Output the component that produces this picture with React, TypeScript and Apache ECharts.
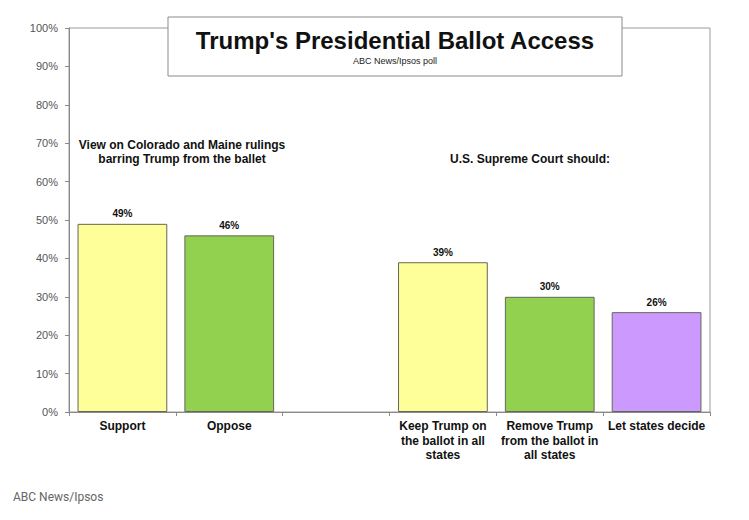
import React, { useEffect, useRef } from "react";
import * as echarts from "echarts";

const categories = [
  "Support",
  "Oppose",
  "",
  "Keep Trump on\nthe ballot in all\nstates",
  "Remove Trump\nfrom the ballot in\nall states",
  "Let states decide",
];
const values: (number | null)[] = [49, 46, null, 39, 30, 26];
const barColors = ["#FFFF99", "#92D050", "#FFFFFF", "#FFFF99", "#92D050", "#CC99FF"];
const yTicks = [0, 10, 20, 30, 40, 50, 60, 70, 80, 90, 100];

const titleText = "Trump's Presidential Ballot Access";
const subtitleText = "ABC News/Ipsos poll";
const leftNote = "View on Colorado and Maine rulings\nbarring Trump from the ballet";
const rightNote = "U.S. Supreme Court should:";
const sourceText = "ABC News/Ipsos";

export default function App() {
  const ref = useRef<HTMLDivElement>(null);
  useEffect(() => {
    if (!ref.current) return;
    const chart = echarts.init(ref.current, undefined, { renderer: "svg" });
    const font = "'Liberation Sans', Arial, sans-serif";
    chart.setOption({
      animation: false,
      backgroundColor: "#ffffff",
      grid: {
        left: 69,
        right: 39,
        top: 28,
        bottom: 108,
        show: true,
        borderColor: "#9a9a9a",
        borderWidth: 1,
      },
      xAxis: {
        type: "category",
        data: categories,
        axisLine: { lineStyle: { color: "#8a8a8a", width: 1 } },
        axisTick: { show: true, length: 4, lineStyle: { color: "#8a8a8a" }, alignWithLabel: false },
        axisLabel: {
          interval: 0,
          margin: 7,
          color: "#111",
          fontFamily: font,
          fontWeight: "bold",
          fontSize: 12,
          lineHeight: 14.5,
        },
      },
      yAxis: {
        type: "value",
        min: 0,
        max: 100,
        interval: 10,
        splitLine: { show: false },
        axisLine: { show: true, lineStyle: { color: "#8a8a8a", width: 1 } },
        axisTick: { show: true, length: 4, lineStyle: { color: "#8a8a8a" } },
        axisLabel: {
          margin: 11,
          color: "#555555",
          fontFamily: font,
          fontSize: 11,
          formatter: (v: number) => (yTicks.includes(v) ? v + "%" : ""),
        },
      },
      series: [
        {
          type: "bar",
          data: values.map((v, i) => ({
            value: v,
            itemStyle: { color: barColors[i], borderColor: "#66665a", borderWidth: 1 },
          })),
          barWidth: "84%",
          label: {
            show: true,
            position: "top",
            distance: 5,
            color: "#111",
            fontFamily: font,
            fontWeight: "bold",
            fontSize: 10,
            formatter: (p: any) => p.value + "%",
          },
        },
      ],
      graphic: [
        {
          type: "rect",
          shape: { x: 168, y: 17, width: 454, height: 59 },
          style: { fill: "#ffffff", stroke: "#8a8a8a", lineWidth: 1 },
          z: 100,
        },
        {
          type: "text",
          x: 395,
          y: 40,
          z: 101,
          style: {
            text: titleText,
            fill: "#111",
            font: `bold 24px ${font}`,
            align: "center",
            verticalAlign: "middle",
          },
        },
        {
          type: "text",
          x: 395,
          y: 61,
          z: 101,
          style: {
            text: subtitleText,
            fill: "#222",
            font: `9px ${font}`,
            align: "center",
            verticalAlign: "middle",
          },
        },
        {
          type: "text",
          x: 182,
          y: 152,
          z: 101,
          style: {
            text: leftNote,
            fill: "#111",
            font: `bold 12px ${font}`,
            lineHeight: 14.5,
            align: "center",
            verticalAlign: "middle",
          },
        },
        {
          type: "text",
          x: 530,
          y: 159,
          z: 101,
          style: {
            text: rightNote,
            fill: "#111",
            font: `bold 12px ${font}`,
            align: "center",
            verticalAlign: "middle",
          },
        },
        {
          type: "text",
          x: 13,
          y: 497,
          z: 101,
          style: {
            text: sourceText,
            fill: "#666",
            font: `12px Roboto, sans-serif`,
            align: "left",
            verticalAlign: "middle",
          },
        },
      ],
    });
    return () => chart.dispose();
  }, []);
  return (
    <div
      ref={ref}
      style={{ position: "absolute", left: 0, top: 0, width: 749, height: 520 }}
    />
  );
}
